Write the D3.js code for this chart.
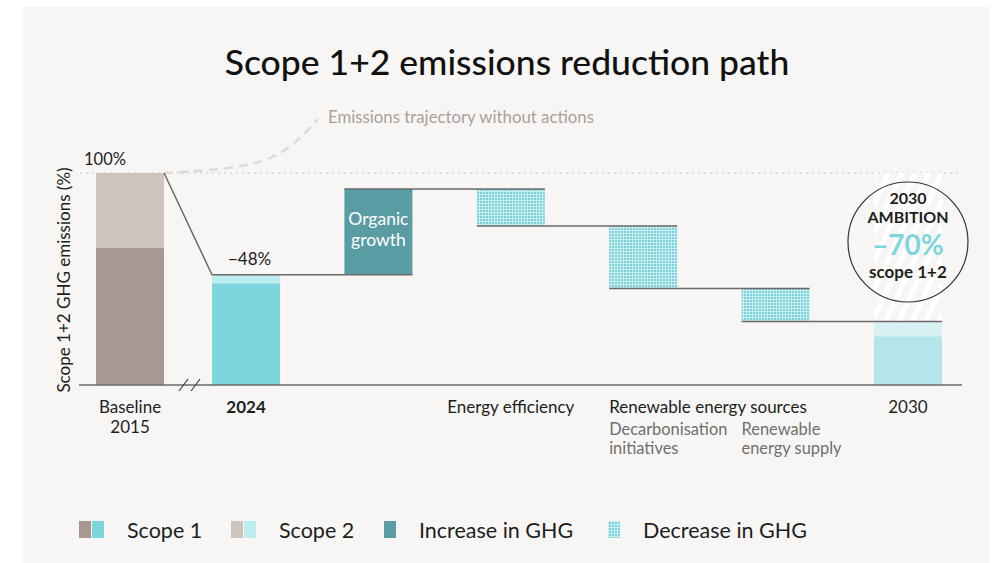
<!DOCTYPE html>
<html>
<head>
<meta charset="utf-8">
<script src="https://cdn.jsdelivr.net/npm/d3@7/dist/d3.min.js"></script>
<style>
  html, body { margin: 0; padding: 0; background: #ffffff; }
  svg { display: block; font-family: "Lato", "Noto Sans", sans-serif; }
</style>
</head>
<body>
<svg id="chart" width="996" height="563"></svg>
<script>
// ---- data -------------------------------------------------------------
const baselineLabel = ["Baseline", "2015"];
const baselineScope1 = 64.6;
const baselineScope2 = 35.4;

// waterfall steps after the baseline
const steps = ["2024", "Organic growth", "Energy efficiency", "Decarbonisation", "Renewable supply", "2030"];
const stepKind = ["total", "increase", "decrease", "decrease", "decrease", "target"];
// level (% of 2015 emissions) at the start and end of each step
const stepFrom = [0, 52, 92.5, 75, 45.5, 0];
const stepTo   = [52, 92.5, 75, 45.5, 30, 30];
// scope split for the total bars
const scope1Values = { "2024": 48, "2030": 23 };
const scope2Values = { "2024": 4, "2030": 7 };

const labels2024 = "\u221248%";
const ambition = ["2030", "AMBITION", "\u201370%", "scope 1+2"];
const legendItems = ["Scope 1", "Scope 2", "Increase in GHG", "Decrease in GHG"];

// ---- colours ----------------------------------------------------------
const C = {
  panel: "#f7f6f4",
  s1Base: "#a89891", s2Base: "#cdc4be",
  s1: "#7dd6de", s2: "#bdecef",
  s1Target: "#b5e5e9", s2Target: "#d7f0f2",
  increase: "#5a9ca3",
  dot: "#78d2da",
  line: "#6a6a6a",
  text: "#1e1e1e"
};

const svg = d3.select("#chart");

// background panel
svg.append("rect").attr("x", 23).attr("y", 7).attr("width", 967).attr("height", 556).attr("fill", C.panel);

// patterns
const defs = svg.append("defs");
const dots = defs.append("pattern").attr("id", "dots").attr("patternUnits", "userSpaceOnUse")
  .attr("width", 3).attr("height", 3);
dots.append("rect").attr("width", 3).attr("height", 3).attr("fill", "#cdeef1");
dots.append("rect").attr("width", 2).attr("height", 2).attr("fill", C.dot);

const stripes = defs.append("pattern").attr("id", "stripes").attr("patternUnits", "userSpaceOnUse")
  .attr("width", 12).attr("height", 12).attr("patternTransform", "rotate(25)");
stripes.append("rect").attr("width", 12).attr("height", 12).attr("fill", C.panel);
stripes.append("rect").attr("width", 5).attr("height", 12).attr("fill", "#ffffff");

// ---- scales -----------------------------------------------------------
const y = d3.scaleLinear().domain([0, 100]).range([385, 173]);
const x = d3.scaleBand().domain(steps).range([212, 942]).paddingInner(0.486).paddingOuter(0);
const bw = x.bandwidth();
const baseX = x("2024") - 116;   // baseline sits before the axis break

// ---- title ------------------------------------------------------------
svg.append("text").attr("x", 507).attr("y", 75).attr("text-anchor", "middle")
  .attr("font-size", 35.5).attr("font-weight", 500).attr("fill", "#111")
  .text("Scope 1+2 emissions reduction path");

// y axis title
svg.append("text").attr("transform", `translate(70,${(y(0) + y(100)) / 2 + 1}) rotate(-90)`)
  .attr("text-anchor", "middle").attr("font-size", 17).attr("fill", C.text)
  .text("Scope 1+2 GHG emissions (%)");

// 100% reference line
svg.append("line").attr("x1", 80).attr("x2", 962).attr("y1", y(100)).attr("y2", y(100))
  .attr("stroke", "#d8d4d0").attr("stroke-width", 1.5).attr("stroke-dasharray", "2,4");

// striped column behind the ambition badge
svg.append("rect").attr("x", x("2030")).attr("width", bw)
  .attr("y", y(100)).attr("height", y(stepTo[5]) - y(100)).attr("fill", "url(#stripes)");

// trajectory without actions
const traj = d3.line().curve(d3.curveBasis);
svg.append("path")
  .attr("d", traj([[baseX + bw / 2 + 34, y(100)], [250, 168], [290, 150], [318, 119]]))
  .attr("fill", "none").attr("stroke", "#e0dad6").attr("stroke-width", 2.5).attr("stroke-dasharray", "9,6");
svg.append("text").attr("x", 328).attr("y", 123).attr("font-size", 16.8).attr("fill", "#ab9f99")
  .text("Emissions trajectory without actions");

// ---- baseline bar -----------------------------------------------------
svg.append("rect").attr("x", baseX).attr("width", bw).attr("y", y(baselineScope1))
  .attr("height", y(0) - y(baselineScope1)).attr("fill", C.s1Base);
svg.append("rect").attr("x", baseX).attr("width", bw).attr("y", y(baselineScope1 + baselineScope2))
  .attr("height", y(baselineScope1) - y(baselineScope1 + baselineScope2)).attr("fill", C.s2Base);
svg.append("text").attr("x", baseX - 12).attr("y", 165).attr("font-size", 16.5).attr("fill", C.text).text("100%");

// ---- waterfall bars ---------------------------------------------------
steps.forEach((s, i) => {
  const x0 = x(s);
  const kind = stepKind[i];
  if (kind === "total" || kind === "target") {
    const a = scope1Values[s], b = scope2Values[s];
    svg.append("rect").attr("x", x0).attr("width", bw).attr("y", y(a)).attr("height", y(0) - y(a))
      .attr("fill", kind === "total" ? C.s1 : C.s1Target);
    svg.append("rect").attr("x", x0).attr("width", bw).attr("y", y(a + b)).attr("height", y(a) - y(a + b))
      .attr("fill", kind === "total" ? C.s2 : C.s2Target);
  } else {
    const top = Math.max(stepFrom[i], stepTo[i]), bot = Math.min(stepFrom[i], stepTo[i]);
    svg.append("rect").attr("x", x0).attr("width", bw).attr("y", y(top)).attr("height", y(bot) - y(top))
      .attr("fill", kind === "increase" ? C.increase : "url(#dots)");
  }
});

// connectors: each level runs from the left of one bar to the right of the next
const conn = svg.append("g").attr("stroke", C.line).attr("stroke-width", 1.5).attr("fill", "none");
conn.append("path").attr("d", d3.line()([
  [baseX + bw, y(100)], [x("2024"), y(stepTo[0])], [x(steps[1]) + bw, y(stepTo[0])]
]));
for (let i = 1; i < steps.length - 1; i++) {
  conn.append("line").attr("x1", x(steps[i])).attr("x2", x(steps[i + 1]) + bw)
    .attr("y1", y(stepTo[i])).attr("y2", y(stepTo[i]));
}

// x axis with break marks
svg.append("line").attr("x1", 79).attr("x2", 962).attr("y1", y(0)).attr("y2", y(0))
  .attr("stroke", C.line).attr("stroke-width", 1.5);
[179, 191].forEach(bx => {
  svg.append("line").attr("x1", bx).attr("x2", bx + 9).attr("y1", y(0) + 6).attr("y2", y(0) - 6)
    .attr("stroke", "#444").attr("stroke-width", 1.2);
});

// value label on 2024
svg.append("text").attr("x", x("2024") + 16).attr("y", y(stepTo[0]) - 10).attr("font-size", 17)
  .attr("fill", C.text).text(labels2024);

// organic growth label
const og = svg.append("text").attr("text-anchor", "middle").attr("font-size", 17.5).attr("fill", "#ffffff");
og.append("tspan").attr("x", x(steps[1]) + bw / 2).attr("y", 225).text("Organic");
og.append("tspan").attr("x", x(steps[1]) + bw / 2).attr("y", 246).text("growth");

// ---- category labels --------------------------------------------------
const lab = svg.append("g").attr("font-size", 17).attr("fill", C.text);
lab.append("text").attr("x", baseX + bw / 2).attr("y", 413).attr("text-anchor", "middle").text(baselineLabel[0]);
lab.append("text").attr("x", baseX + bw / 2).attr("y", 433).attr("text-anchor", "middle").text(baselineLabel[1]);
lab.append("text").attr("x", x("2024") + bw / 2).attr("y", 413).attr("text-anchor", "middle")
  .attr("font-weight", 700).text("2024");
lab.append("text").attr("x", x("Energy efficiency") + bw / 2).attr("y", 413).attr("text-anchor", "middle")
  .text("Energy efficiency");
lab.append("text").attr("x", x("Decarbonisation")).attr("y", 413).text("Renewable energy sources");
lab.append("text").attr("x", x("2030") + bw / 2).attr("y", 413).attr("text-anchor", "middle").text("2030");
const sub = svg.append("g").attr("font-size", 16.4).attr("fill", "#6f6f6f");
[["Decarbonisation", ["Decarbonisation", "initiatives"]], ["Renewable supply", ["Renewable", "energy supply"]]]
  .forEach(([k, lines]) => lines.forEach((t, j) =>
    sub.append("text").attr("x", x(k)).attr("y", 435 + j * 19).text(t)));

// ---- ambition badge ---------------------------------------------------
const cx = x("2030") + bw / 2, cy = 242;
svg.append("circle").attr("cx", cx).attr("cy", cy).attr("r", 60)
  .attr("fill", "none").attr("stroke", "#333").attr("stroke-width", 1.2);
const badge = svg.append("g").attr("text-anchor", "middle").attr("font-weight", 700).attr("fill", C.text);
badge.append("text").attr("x", cx).attr("y", 204).attr("font-size", 16).text(ambition[0]);
badge.append("text").attr("x", cx).attr("y", 223).attr("font-size", 16).text(ambition[1]);
badge.append("text").attr("x", cx).attr("y", 255).attr("font-size", 28).attr("fill", C.s1).text(ambition[2]);
badge.append("text").attr("x", cx).attr("y", 278).attr("font-size", 17).text(ambition[3]);

// ---- legend -----------------------------------------------------------
const lg = svg.append("g").attr("font-size", 21.5).attr("fill", C.text);
const legendX = [79, 231, 384, 608];
const legendFills = [[C.s1Base, C.s1], [C.s2Base, C.s2], [C.increase], ["url(#dots)"]];
legendItems.forEach((t, i) => {
  legendFills[i].forEach((f, j) => {
    lg.append("rect").attr("x", legendX[i] + j * 13).attr("y", 521).attr("width", 12).attr("height", 17).attr("fill", f);
  });
  lg.append("text").attr("x", legendX[i] + legendFills[i].length * 13 + 22).attr("y", 538).text(t);
});
</script>
</body>
</html>
